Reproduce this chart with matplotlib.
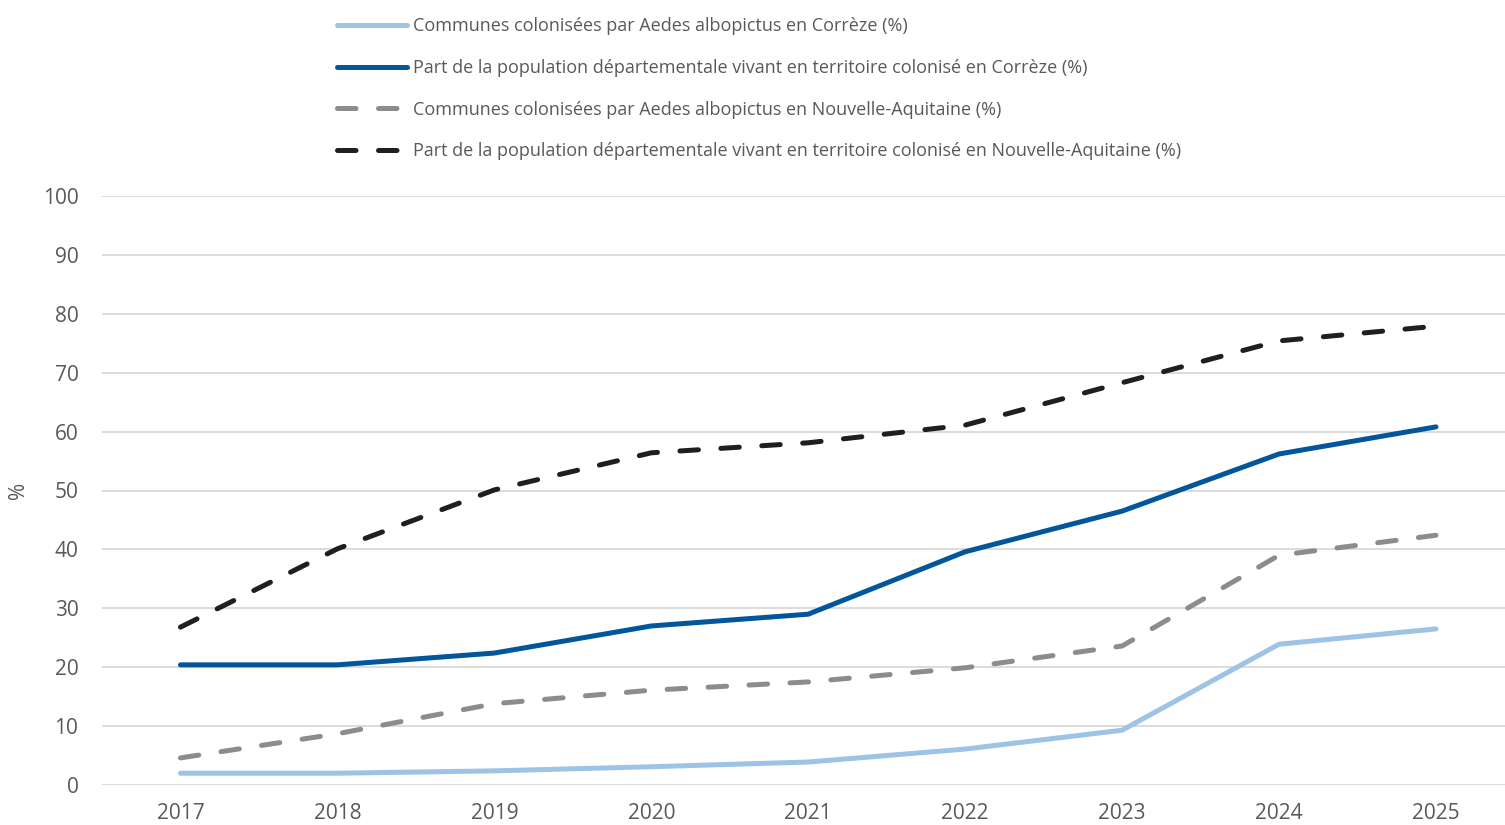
import matplotlib.pyplot as plt
import numpy as np

years = ['2017', '2018', '2019', '2020', '2021', '2022', '2023', '2024', '2025']
communes_correze = [2.0, 2.0, 2.4, 3.1, 3.9, 6.1, 9.3, 23.9, 26.5]
pop_correze = [20.4, 20.4, 22.4, 27.0, 29.0, 39.6, 46.5, 56.2, 60.8]
communes_na = [4.6, 8.7, 13.8, 16.1, 17.5, 19.9, 23.6, 39.0, 42.4]
pop_na = [26.8, 40.1, 50.1, 56.4, 58.1, 61.1, 68.3, 75.4, 77.9]

labels = [
    'Communes colonisées par Aedes albopictus en Corrèze (%)',
    'Part de la population départementale vivant en territoire colonisé en Corrèze (%)',
    'Communes colonisées par Aedes albopictus en Nouvelle-Aquitaine (%)',
    'Part de la population départementale vivant en territoire colonisé en Nouvelle-Aquitaine (%)',
]

plt.rcParams['font.family'] = ['Open Sans', 'DejaVu Sans']
text_col = '#595959'

fig = plt.figure(figsize=(15.05, 8.25), dpi=100)
ax = fig.add_axes([102 / 1505, 40 / 825, 1 - 102 / 1505, 589 / 825])

x = np.arange(len(years))
lw = 3.6
ax.plot(x, communes_correze, color='#9DC3E6', lw=lw, solid_capstyle='round', label=labels[0])
ax.plot(x, pop_correze, color='#02569B', lw=lw, solid_capstyle='round', label=labels[1])
ax.plot(x, communes_na, color='#8C8C8C', lw=lw, dashes=(3.7, 4.5),
        dash_capstyle='round', label=labels[2])
ax.plot(x, pop_na, color='#1F1F1F', lw=lw, dashes=(3.7, 4.5),
        dash_capstyle='round', label=labels[3])

ax.set_ylim(0, 100)
ax.set_xlim(-0.5, len(years) - 1 + 0.44)
ax.set_yticks(range(0, 101, 10))
ax.set_xticks(x)
ax.set_xticklabels(years)
ax.grid(axis='y', color='#D9D9D9', lw=1.3)
ax.set_axisbelow(True)
for s in ax.spines.values():
    s.set_visible(False)
ax.tick_params(length=0, labelsize=15, colors=text_col)
ax.tick_params(axis='x', pad=13)
ax.tick_params(axis='y', pad=17)
ax.set_ylabel('%', fontsize=15, color=text_col)
ax.yaxis.set_label_coords(-0.052, 0.5)

fig.legend(loc='upper left', bbox_to_anchor=(337 / 1505, 1 - 17 / 825),
           frameon=False, fontsize=13, labelcolor=text_col,
           borderpad=0, borderaxespad=0,
           handlelength=3.9, handletextpad=0.3, labelspacing=1.32)

fig.savefig('out.png', dpi=100)
